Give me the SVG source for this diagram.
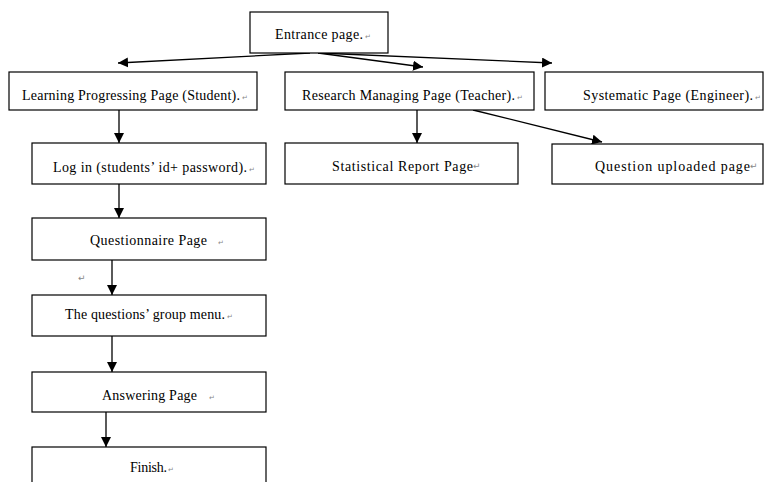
<svg xmlns="http://www.w3.org/2000/svg" width="766" height="482" viewBox="0 0 766 482">
<defs>
<marker id="ah" markerWidth="10" markerHeight="10" refX="10" refY="5" orient="auto" markerUnits="userSpaceOnUse">
<path d="M0,0 L10,5 L0,10 Z" fill="#000"/>
</marker>
<style>
.box{fill:#fff;stroke:#000;stroke-width:1.2}
.t{font-family:"Liberation Serif","Times New Roman",serif;font-size:14px;fill:#000}
.m{font-family:"DejaVu Sans",sans-serif;font-size:7px;fill:#888}
.c{stroke:#000;stroke-width:1.3;fill:none;marker-end:url(#ah)}
</style>
</defs>
<rect width="766" height="482" fill="#fff"/>
<g id="connectors">
<line class="c" x1="310" y1="53" x2="118" y2="63"/>
<line class="c" x1="318" y1="53" x2="423" y2="67"/>
<line class="c" x1="318" y1="53" x2="552" y2="63"/>
<line class="c" x1="417" y1="110" x2="417" y2="143"/>
<line class="c" x1="473" y1="110" x2="602" y2="142"/>
<line class="c" x1="119" y1="110" x2="119" y2="143"/>
<line class="c" x1="119" y1="184" x2="119" y2="218"/>
<line class="c" x1="112" y1="260" x2="112" y2="295"/>
<line class="c" x1="112" y1="336" x2="112" y2="372"/>
<line class="c" x1="106" y1="412" x2="106" y2="447"/>
</g>
<g id="entrance">
<rect class="box" x="250" y="12" width="138" height="41"/>
<text class="t" x="275" y="39" textLength="88" lengthAdjust="spacing">Entrance page.</text><text class="m" x="365" y="39">↵</text>
</g>
<g id="learning">
<rect class="box" x="9" y="72" width="248" height="38"/>
<text class="t" x="22" y="100" textLength="218" lengthAdjust="spacing">Learning Progressing Page (Student).</text><text class="m" x="242" y="100">↵</text>
</g>
<g id="research">
<rect class="box" x="285" y="72" width="249" height="38"/>
<text class="t" x="302" y="100" textLength="213" lengthAdjust="spacing">Research Managing Page (Teacher).</text><text class="m" x="517" y="100">↵</text>
</g>
<g id="systematic">
<rect class="box" x="545" y="72" width="218" height="38"/>
<text class="t" x="583" y="100" textLength="170" lengthAdjust="spacing">Systematic Page (Engineer).</text><text class="m" x="755" y="100">↵</text>
</g>
<g id="statistical">
<rect class="box" x="285" y="143" width="233" height="41"/>
<text class="t" x="332" y="171" textLength="141" lengthAdjust="spacing">Statistical Report Page</text><text class="m" x="473" y="169" style="font-size:9px">↵</text>
</g>
<g id="question-uploaded">
<rect class="box" x="552" y="144" width="211" height="40"/>
<text class="t" x="595" y="171" textLength="155" lengthAdjust="spacing">Question uploaded page</text><text class="m" x="750" y="169" style="font-size:9px">↵</text>
</g>
<g id="login">
<rect class="box" x="32" y="143" width="234" height="41"/>
<text class="t" x="53" y="172" textLength="194" lengthAdjust="spacing">Log in (students’ id+ password).</text><text class="m" x="249" y="172">↵</text>
</g>
<g id="questionnaire">
<rect class="box" x="32" y="218" width="234" height="42"/>
<text class="t" x="90" y="245" textLength="117" lengthAdjust="spacing">Questionnaire Page</text><text class="m" x="218" y="245">↵</text>
</g>
<text class="m" x="78" y="281" style="font-size:9px">↵</text>
<g id="group-menu">
<rect class="box" x="32" y="295" width="234" height="41"/>
<text class="t" x="65" y="319" textLength="160" lengthAdjust="spacing">The questions’ group menu.</text><text class="m" x="227" y="319">↵</text>
</g>
<g id="answering">
<rect class="box" x="32" y="372" width="234" height="40"/>
<text class="t" x="102" y="400" textLength="95" lengthAdjust="spacing">Answering Page</text><text class="m" x="209" y="400">↵</text>
</g>
<g id="finish">
<rect class="box" x="32" y="447" width="234" height="40"/>
<text class="t" x="130" y="472" textLength="37" lengthAdjust="spacing">Finish.</text><text class="m" x="168" y="472">↵</text>
</g>
</svg>
